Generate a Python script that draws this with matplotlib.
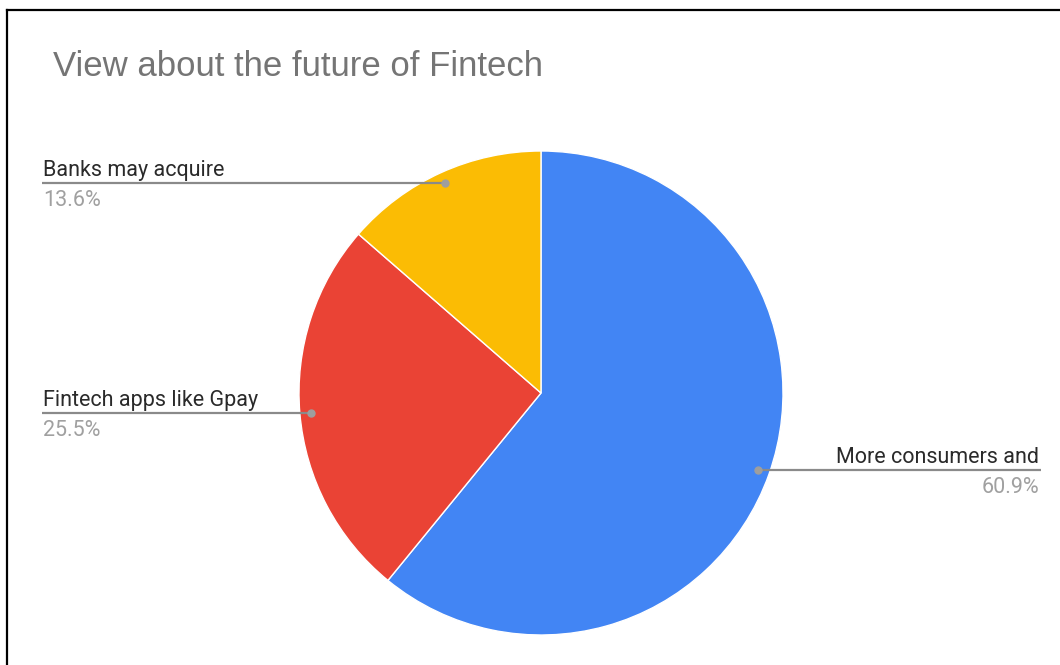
import numpy as np
import matplotlib.pyplot as plt
from matplotlib.lines import Line2D

labels = ["More consumers and", "Fintech apps like Gpay", "Banks may acquire"]
shares = [60.9, 25.5, 13.6]
colors = ["#4285F4", "#EA4335", "#FBBC04"]
title = "View about the future of Fintech"

W, H = 1060, 665
fig = plt.figure(figsize=(W / 100, H / 100), dpi=100)
ax = fig.add_axes([0, 0, 1, 1])

# pie in pixel units, y measured from the bottom
cx, cy, r = 541, H - 393, 242
wedges, _ = ax.pie(shares, colors=colors, startangle=90, counterclock=False,
                   center=(cx, cy), radius=r, frame=True,
                   wedgeprops=dict(linewidth=1, edgecolor="white"))
ax.set_xlim(0, W)
ax.set_ylim(0, H)
ax.set_aspect("equal")
ax.axis("off")

label_font = dict(family="Roboto", fontsize=15.5)
for w, lab, val in zip(wedges, labels, shares):
    mid = np.deg2rad((w.theta1 + w.theta2) / 2)
    dx = cx + 0.953 * r * np.cos(mid)
    dy = cy + 0.953 * r * np.sin(mid)
    if np.cos(mid) < 0:
        x0, x1, tx, ha = 42, dx, 43, "left"
    else:
        x0, x1, tx, ha = dx, 1041, 1039, "right"
    ax.plot([x0, x1], [dy, dy], color="#8a8a8a", lw=1.6, solid_capstyle="butt")
    ax.plot([dx], [dy], "o", color="#9e9e9e", ms=5)
    ax.text(tx, dy + 7, lab, ha=ha, va="baseline", color="#2a2a2a", **label_font)
    ax.text(tx, dy - 7, f"{val}%", ha=ha, va="top", color="#a0a0a0", **label_font)

fig.text(53 / W, 1 - 66 / H, title, ha="left", va="center",
         family="Liberation Sans", fontsize=25, color="#757575")

# frame edges on the left and top
fig.add_artist(Line2D([7 / W, 7 / W], [0, 1 - 10 / H], transform=fig.transFigure,
                      color="black", lw=1.6))
fig.add_artist(Line2D([7 / W, 1], [1 - 10 / H, 1 - 10 / H], transform=fig.transFigure,
                      color="black", lw=1.6))

fig.savefig("out.png", dpi=100, facecolor="white")
